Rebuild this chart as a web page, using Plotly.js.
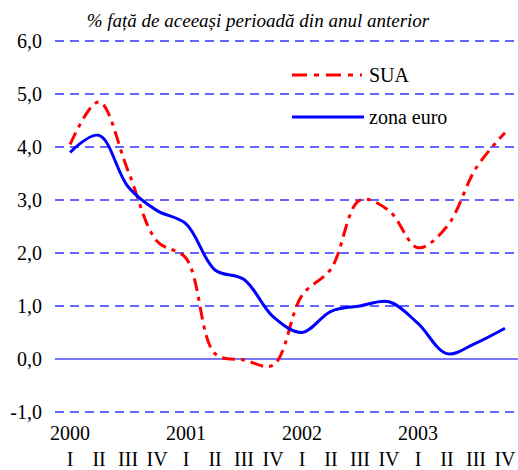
<!DOCTYPE html>
<html>
<head>
<meta charset="utf-8">
<script src="https://cdn.plot.ly/plotly-3.0.1.min.js"></script>
<style>html,body{margin:0;padding:0;background:#fff;}#chart{width:518px;height:470px;}</style>
</head>
<body>
<div id="chart"></div>
<script>
const quarters = ["I","II","III","IV","I","II","III","IV","I","II","III","IV","I","II","III","IV"];
const years = ["2000","","","","2001","","","","2002","","","","2003","","",""];
const xIndex = [0,1,2,3,4,5,6,7,8,9,10,11,12,13,14,15];
const sua = [4.05, 4.85, 3.55, 2.22, 1.9, 0.1, -0.02, -0.12, 1.2, 1.7, 3.0, 2.8, 2.1, 2.5, 3.6, 4.27];
const zonaEuro = [3.9, 4.22, 3.25, 2.8, 2.55, 1.68, 1.5, 0.8, 0.5, 0.9, 1.0, 1.08, 0.67, 0.1, 0.3, 0.58];
const seriesNames = ["SUA", "zona euro"];
const titleText = "% față de aceeași perioadă din anul anterior";
const yTicks = [-1,0,1,2,3,4,5,6];
const yTickLabels = ["-1,0","0,0","1,0","2,0","3,0","4,0","5,0","6,0"];

const tickText = quarters.map((q,i) => (years[i] || "\u00a0") + "<br>" + q);
const FONT = "Times New Roman, Liberation Serif, serif";

const traces = [
  {x: xIndex, y: sua, name: seriesNames[0], type: "scatter", mode: "lines",
   line: {color: "#ff0000", width: 3, dash: "13px,6px,4px,6px", shape: "spline", smoothing: 1}},
  {x: xIndex, y: zonaEuro, name: seriesNames[1], type: "scatter", mode: "lines",
   line: {color: "#0000ff", width: 3, shape: "spline", smoothing: 1}}
];

const layout = {
  width: 518, height: 470,
  margin: {l: 55, r: 0, t: 40, b: 57},
  paper_bgcolor: "#fff", plot_bgcolor: "#fff",
  showlegend: false,
  font: {family: FONT, size: 20, color: "#000"},
  title: {text: titleText, x: 0.498, xanchor: "center", y: 0.957, yanchor: "middle",
          font: {family: FONT, size: 19, style: "italic", color: "#000"}},
  xaxis: {range: [-0.52, 15.45], tickmode: "array", tickvals: xIndex, ticktext: tickText,
          tickangle: 0, automargin: false,
          showgrid: false, zeroline: false, showline: false, ticks: "", ticklabelstandoff: 6,
          tickfont: {family: FONT, size: 20, color: "#000"}, fixedrange: true},
  yaxis: {range: [-1.02, 6.02], tickmode: "array", tickvals: yTicks, ticktext: yTickLabels,
          automargin: false,
          showgrid: true, gridcolor: "#6464ff", gridwidth: 1.5, griddash: "9px,6px",
          zeroline: true, zerolinecolor: "#7878ff", zerolinewidth: 2,
          showline: false, ticks: "", ticklabelstandoff: 12,
          tickfont: {family: FONT, size: 20, color: "#000"}, fixedrange: true},
  shapes: [
    {type: "rect", xref: "paper", yref: "paper", layer: "between",
     x0: (270-55)/463, x1: (461-55)/463, y0: (413-140)/373, y1: (413-50)/373,
     fillcolor: "#fff", line: {width: 0}},
    {type: "line", xref: "paper", yref: "paper",
     x0: (292-55)/463, x1: (362-55)/463, y0: (413-75)/373, y1: (413-75)/373,
     line: {color: "#ff0000", width: 3, dash: "15px,7px,5px,7px"}},
    {type: "line", xref: "paper", yref: "paper",
     x0: (292-55)/463, x1: (364-55)/463, y0: (413-117)/373, y1: (413-117)/373,
     line: {color: "#0000ff", width: 3}}
  ],
  annotations: [
    {text: seriesNames[0], xref: "paper", yref: "paper", x: (367-55)/463, y: (413-75)/373,
     xanchor: "left", yanchor: "middle", showarrow: false, font: {family: FONT, size: 20, color: "#000"}},
    {text: seriesNames[1], xref: "paper", yref: "paper", x: (367-55)/463, y: (413-117)/373,
     xanchor: "left", yanchor: "middle", showarrow: false, font: {family: FONT, size: 20, color: "#000"}}
  ]
};

Plotly.newPlot("chart", traces, layout, {displayModeBar: false, staticPlot: true});
</script>
</body>
</html>
